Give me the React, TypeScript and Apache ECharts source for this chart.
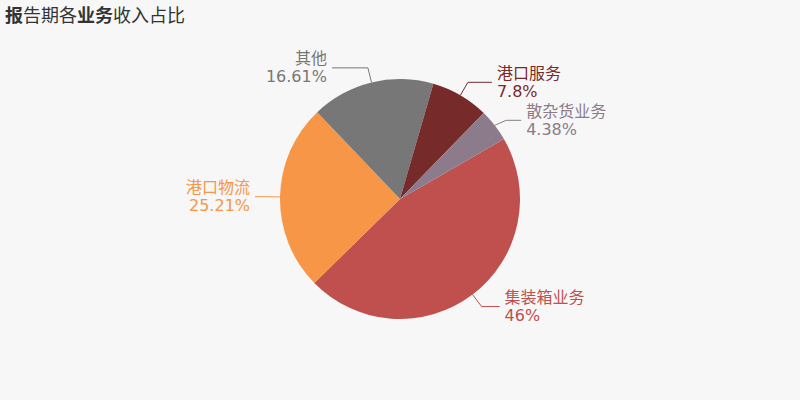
import React, { useEffect, useRef } from 'react';
import * as echarts from 'echarts';
import type { EChartsOption } from 'echarts';

// business segments, clockwise from the start angle (largest first)
const categories = ['集装箱业务', '港口物流', '其他', '港口服务', '散杂货业务'];
const shares = [46, 25.21, 16.61, 7.8, 4.38];
const sliceColors = ['#c0504d', '#f79646', '#777777', '#772a2a', '#8b7b8b'];
// label line segment lengths per slice (first leg, horizontal leg)
const lineLengths = [15, 15, 15, 15, 15];
const lineLengths2 = [18, 10, 36, 24, 15];

const FONT = '"DejaVu Sans", "Noto Sans CJK SC", sans-serif';

const App: React.FC = () => {
  const chartRef = useRef<HTMLDivElement>(null);

  useEffect(() => {
    if (!chartRef.current) return;
    const chart = echarts.init(chartRef.current, undefined, { renderer: 'svg' });

    const option: EChartsOption = {
      animation: false,
      backgroundColor: '#f7f7f7',
      textStyle: { fontFamily: FONT },
      title: {
        text: '{b|报}告期各{b|业务}收入占比',
        left: 0,
        top: 0,
        padding: [6, 5],
        textStyle: {
          fontFamily: FONT,
          fontSize: 18,
          fontWeight: 'normal',
          color: '#333',
          rich: {
            b: { fontFamily: FONT, fontSize: 18, fontWeight: 'bold', color: '#333' }
          }
        }
      },
      series: [
        {
          type: 'pie',
          center: ['50%', 199],
          radius: 120,
          startAngle: 30,
          clockwise: true,
          label: {
            formatter: '{b}\n{c}%',
            fontFamily: FONT,
            fontSize: 16,
            lineHeight: 18
          },
          data: categories.map((name, i) => ({
            name,
            value: shares[i],
            itemStyle: { color: sliceColors[i] },
            label: { color: sliceColors[i] },
            labelLine: {
              length: lineLengths[i],
              length2: lineLengths2[i],
              lineStyle: { color: sliceColors[i] }
            }
          }))
        }
      ]
    };

    chart.setOption(option);
    return () => chart.dispose();
  }, []);

  return (
    <div
      ref={chartRef}
      style={{ position: 'fixed', left: 0, top: 0, width: 800, height: 400 }}
    />
  );
};

export default App;
